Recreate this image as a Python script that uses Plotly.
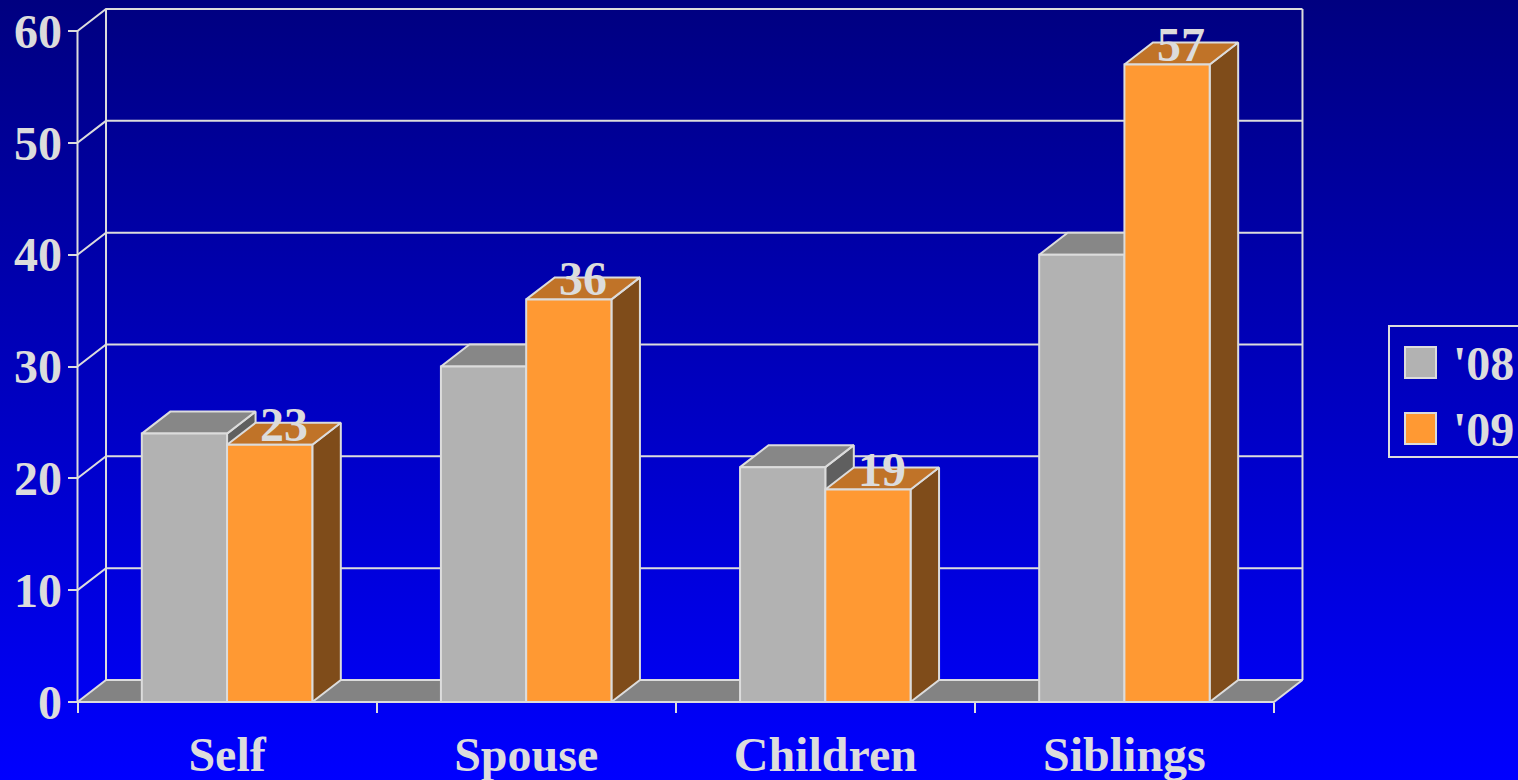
import plotly.graph_objects as go

# ---- data ----
categories = ["Self", "Spouse", "Children", "Siblings"]
series_names = ["'08", "'09"]
values_08 = [24, 30, 21, 40]
values_09 = [23, 36, 19, 57]
y_ticks = [0, 10, 20, 30, 40, 50, 60]

# ---- style / geometry ----
W, H = 1518, 780
TXT = "#DCDCDC"
EDGE = "#DCDCDC"
FONT = "Liberation Serif, Times New Roman, serif"
front_cols = ["#B2B2B2", "#FF9933"]
top_cols = ["#878787", "#C07328"]
side_cols = ["#5F5F5F", "#7F4C1A"]
floor_col = "#838383"

bar_w = 0.285
offsets = [-0.285, 0.0]
dx, dy = 0.0953, 1.967          # depth offset in data units
xa, xb = -0.5, 3.5               # category extent
ymax = 60

# axis ranges so the plot covers the full page
x0, x1 = -0.7591, 4.3158
y0, y1 = -6.975, 62.772

fig = go.Figure()

# background gradient
fig.add_trace(go.Scatter(
    x=[x0, x1, x1, x0, x0], y=[y0, y0, y1, y1, y0], mode="lines",
    fill="toself", line=dict(width=0),
    fillgradient=dict(type="vertical", colorscale=[[0, "#0000FF"], [1, "#000080"]],
                      start=y0, stop=y1),
    hoverinfo="skip", showlegend=False))

# walls / grid lines
gx, gy = [], []
for v in y_ticks:
    if v > 0:
        gx += [xa, xa + dx, xb + dx, None]
        gy += [v, v + dy, v + dy, None]
gx += [xa + dx, xa + dx, None, xb + dx, xb + dx, None, xa, xa, None]
gy += [dy, ymax + dy, None, dy, ymax + dy, None, 0, ymax, None]
fig.add_trace(go.Scatter(x=gx, y=gy, mode="lines", line=dict(color=EDGE, width=2),
                         hoverinfo="skip", showlegend=False))

# floor
fig.add_trace(go.Scatter(
    x=[xa, xb, xb + dx, xa + dx, xa], y=[0, 0, dy, dy, 0], mode="lines",
    fill="toself", fillcolor=floor_col, line=dict(color=EDGE, width=2),
    hoverinfo="skip", showlegend=False))


def poly_trace(xs, ys, color):
    return go.Scatter(x=xs, y=ys, mode="lines", fill="toself", fillcolor=color,
                      line=dict(color=EDGE, width=2), hoverinfo="skip",
                      showlegend=False)


for s, vals in enumerate([values_08, values_09]):
    sx, sy, tx, ty, fx, fy = [], [], [], [], [], []
    for i, v in enumerate(vals):
        xl = i + offsets[s]
        xr = xl + bar_w
        sx += [xr, xr + dx, xr + dx, xr, xr, None]
        sy += [0, dy, v + dy, v, 0, None]
        tx += [xl, xr, xr + dx, xl + dx, xl, None]
        ty += [v, v, v + dy, v + dy, v, None]
        fx += [xl, xr, xr, xl, xl, None]
        fy += [0, 0, v, v, 0, None]
    fig.add_trace(poly_trace(sx, sy, side_cols[s]))
    fig.add_trace(poly_trace(tx, ty, top_cols[s]))
    fig.add_trace(poly_trace(fx, fy, front_cols[s]))

# front x axis line
fig.add_trace(go.Scatter(x=[xa, xb], y=[0, 0], mode="lines",
                         line=dict(color=EDGE, width=2), hoverinfo="skip",
                         showlegend=False))

# value labels for '09
for i, v in enumerate(values_09):
    fig.add_annotation(x=i + offsets[1] + bar_w / 2 + dx / 2, y=v, xref="x", yref="y",
                       text=str(v), showarrow=False, yanchor="bottom", yshift=-8,
                       font=dict(family=FONT, size=48, color=TXT, weight="bold"))

# custom legend
def px_x(p):
    return p / W


def px_y(p):
    return 1 - p / H


fig.add_shape(type="rect", xref="paper", yref="paper",
              x0=px_x(1389), x1=px_x(1530), y0=px_y(457), y1=px_y(326),
              line=dict(color=EDGE, width=2), fillcolor="rgba(0,0,0,0)")
for k, name in enumerate(series_names):
    top = 347 + 66 * k
    fig.add_shape(type="rect", xref="paper", yref="paper",
                  x0=px_x(1405), x1=px_x(1436), y0=px_y(top + 31), y1=px_y(top),
                  line=dict(color=EDGE, width=2), fillcolor=front_cols[k])
    fig.add_annotation(x=px_x(1451), y=px_y(top + 16), xref="paper", yref="paper",
                       text=name, showarrow=False, xanchor="left", yanchor="middle",
                       font=dict(family=FONT, size=48, color=TXT, weight="bold"))

fig.update_layout(
    width=W, height=H,
    margin=dict(l=0, r=0, t=0, b=0, pad=0, autoexpand=False),
    paper_bgcolor="#0000C0", plot_bgcolor="rgba(0,0,0,0)",
    showlegend=False,
    xaxis=dict(range=[x0, x1], domain=[0, 1], anchor="free",
               position=(0 - y0) / (y1 - y0), automargin=False,
               showgrid=False, zeroline=False, showline=False,
               tickmode="array", tickvals=list(range(len(categories))),
               ticktext=categories, ticks="outside", ticklen=10,
               tickcolor="rgba(0,0,0,0)",
               tickfont=dict(family=FONT, size=48, color=TXT, weight="bold"),
               minor=dict(tickmode="array",
                          tickvals=[xa + k for k in range(len(categories) + 1)],
                          ticks="outside", ticklen=10, tickwidth=2,
                          tickcolor=EDGE, showgrid=False),
               fixedrange=True),
    yaxis=dict(range=[y0, y1], domain=[0, 1], anchor="free",
               position=(xa - x0) / (x1 - x0), automargin=False,
               showgrid=False, zeroline=False, showline=False,
               tickmode="array", tickvals=y_ticks, ticks="outside", ticklen=10,
               tickwidth=2, tickcolor=EDGE, ticklabelstandoff=-4,
               tickfont=dict(family=FONT, size=48, color=TXT, weight="bold"),
               fixedrange=True),
)

fig.write_html(
    "out.html",
    config={"displayModeBar": False},
    post_script="document.body.style.margin='0';document.body.style.padding='0';"
                "document.body.style.overflow='hidden';"
                "document.documentElement.style.overflow='hidden';",
)
